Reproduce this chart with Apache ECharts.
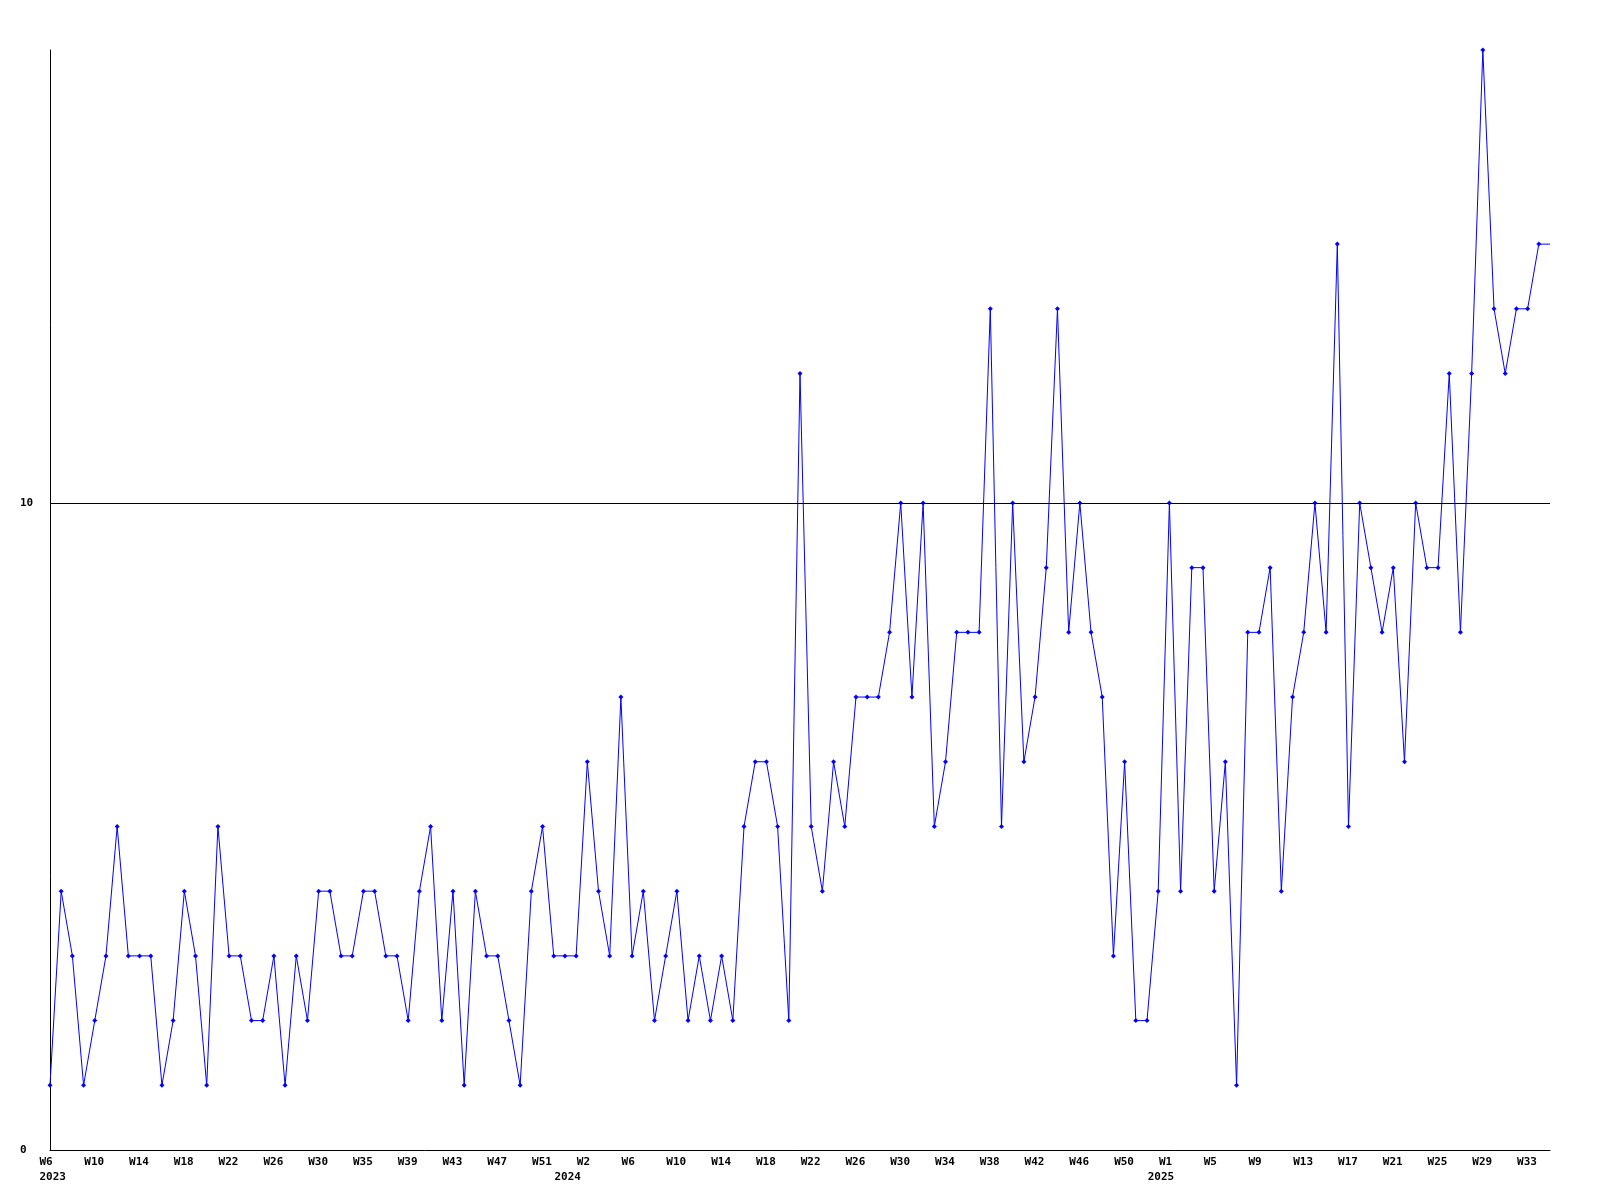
<!DOCTYPE html>
<html>
<head>
<meta charset="utf-8">
<script src="https://cdn.jsdelivr.net/npm/echarts@6/dist/echarts.min.js"></script>
<style>
html,body{margin:0;padding:0;background:#fff;}
#chart{width:1600px;height:1200px;}
</style>
</head>
<body>
<div id="chart"></div>
<script>
// Weekly values, one per point (2023 W6 onward)
const values = [
  1,4,3,1,2,3,5,3,3,3,1,2,4,3,1,5,3,3,2,2,
  3,1,3,2,4,4,3,3,4,4,3,3,2,4,5,2,4,1,4,3,
  3,2,1,4,5,3,3,3,6,4,3,7,3,4,2,3,4,2,3,2,
  3,2,5,6,6,5,2,12,5,4,6,5,7,7,7,8,10,7,10,5,
  6,8,8,8,13,5,10,6,7,9,13,8,10,8,7,3,6,2,2,4,
  10,4,9,9,4,6,1,8,8,9,4,7,8,10,8,14,5,10,9,8,
  9,6,10,9,9,12,8,12,17,13,12,13,13,14,14
];
// Tick labels shown every 4th point
const tickLabels = ['W6','W10','W14','W18','W22','W26','W30','W35','W39','W43','W47','W51',
  'W2','W6','W10','W14','W18','W22','W26','W30','W34','W38','W42','W46','W50',
  'W1','W5','W9','W13','W17','W21','W25','W29','W33'];
const yearLabels = ['2023','2024','2025'];
const yearLabelIndex = [0,46,99];
const refLineValue = 10;

const categories = values.map((v,i)=>String(i));
const lastIdx = values.length - 1;
const seriesData = values.map((v,i)=> i === lastIdx ? {value:v, symbol:'none'} : v);

const font = {fontFamily:'"DejaVu Sans Mono", monospace', fontWeight:'bold', fontSize:11, color:'#000'};
const hidden = {axisLine:{show:false}, axisTick:{show:false}, splitLine:{show:false}};

const chart = echarts.init(document.getElementById('chart'), null, {renderer:'canvas'});
chart.setOption({
  backgroundColor:'#fff',
  animation:false,
  grid:[
    {left:50, right:50, top:50, bottom:50, containLabel:false},
    {left:39.5, right:60.5, top:50, bottom:50, containLabel:false}
  ],
  xAxis:[{
    type:'category',
    gridIndex:0,
    data:categories,
    boundaryGap:false,
    axisLine:{show:true, lineStyle:{color:'#000', width:1}},
    axisTick:{show:false},
    splitLine:{show:false},
    axisLabel:{show:false}
  },
  Object.assign({
    type:'category',
    gridIndex:1,
    data:categories,
    boundaryGap:false,
    axisLabel:Object.assign({}, font, {
      interval:3,
      align:'left',
      margin:6,
      lineHeight:13,
      formatter:function(val, idx){ return tickLabels[idx/4] || ''; }
    })
  }, hidden),
  Object.assign({
    type:'category',
    gridIndex:1,
    position:'bottom',
    data:categories,
    boundaryGap:false,
    axisLabel:Object.assign({}, font, {
      interval:function(idx){ return yearLabelIndex.indexOf(idx) >= 0; },
      align:'left',
      margin:20.5,
      lineHeight:13,
      formatter:function(val, idx){
        const k = yearLabelIndex.indexOf(idx);
        return k >= 0 ? yearLabels[k] : '';
      }
    })
  }, hidden)],
  yAxis:[{
    type:'value',
    gridIndex:0,
    min:0, max:17, interval:10,
    axisLine:{show:true, lineStyle:{color:'#000', width:1}},
    axisTick:{show:false},
    splitLine:{show:false},
    axisLabel:Object.assign({}, font, {
      align:'left',
      margin:30,
      showMaxLabel:false,
      formatter:function(v){ return (v % 10 === 0) ? String(v) : ''; }
    })
  },
  Object.assign({type:'value', gridIndex:1, min:0, max:17, show:false, axisLabel:{show:false}}, hidden)],
  series:[{
    type:'line',
    xAxisIndex:0,
    yAxisIndex:0,
    data:seriesData,
    symbol:'diamond',
    symbolSize:5,
    showAllSymbol:true,
    lineStyle:{color:'#0000ff', width:1},
    itemStyle:{color:'#0000ff'},
    clip:false,
    markLine:{
      silent:true,
      symbol:['none','none'],
      label:{show:false},
      lineStyle:{color:'#000', width:1, type:'solid'},
      emphasis:{disabled:true},
      data:[{yAxis:refLineValue}]
    }
  }]
});
</script>
</body>
</html>
